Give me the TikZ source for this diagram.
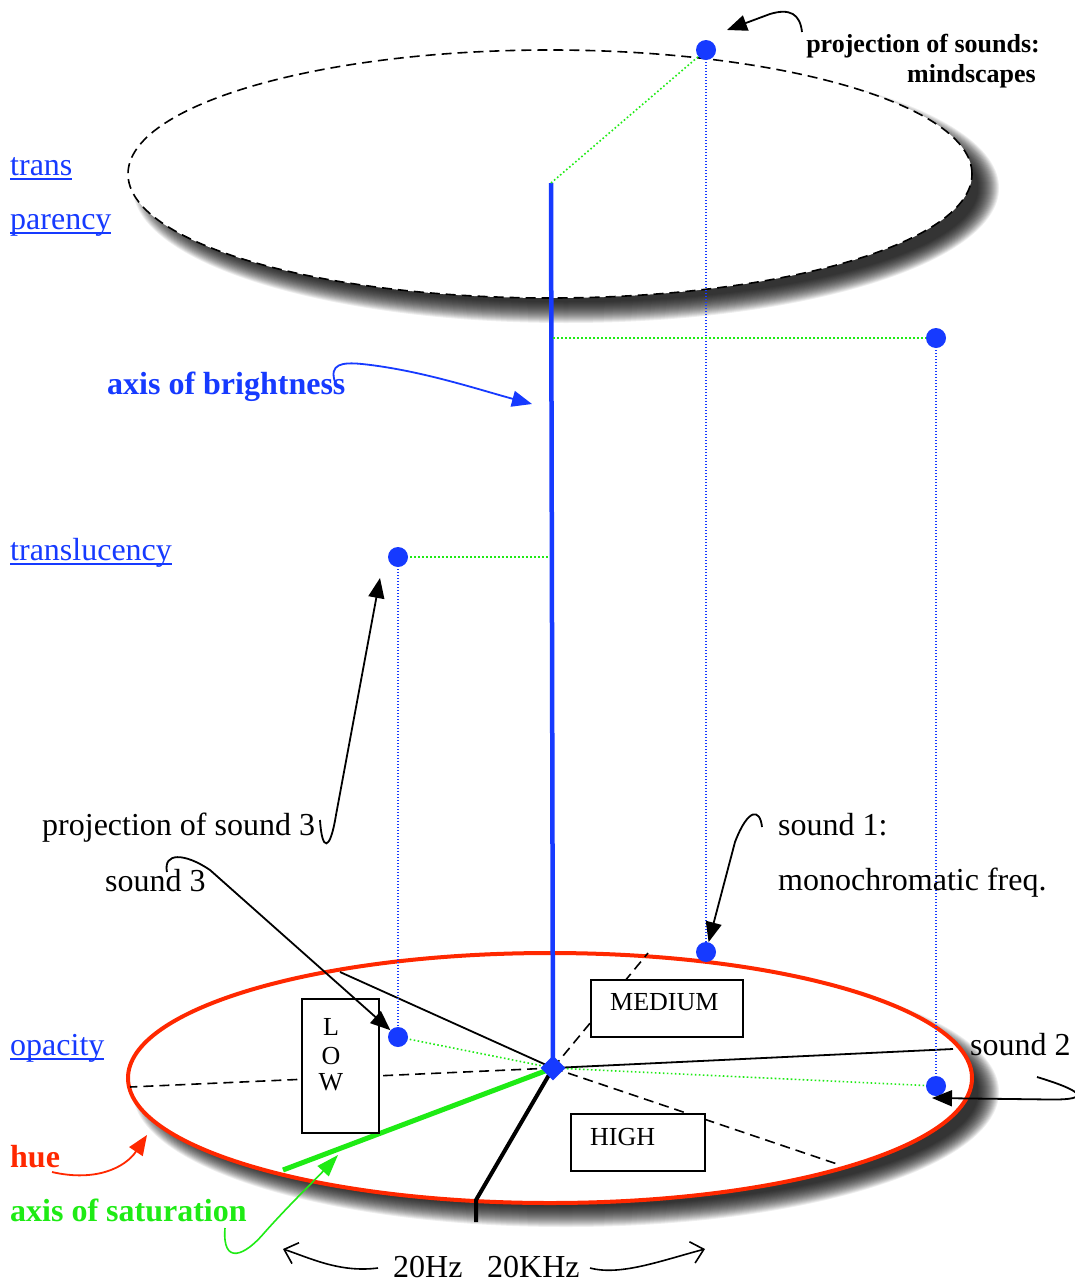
\documentclass[tikz,border=0pt]{standalone}
\usepackage{fontspec}
\setmainfont{Liberation Serif}
\usetikzlibrary{arrows.meta,shapes.geometric}
\definecolor{mblue}{RGB}{22,58,255}
\definecolor{mgreen}{RGB}{30,235,20}
\definecolor{mred}{RGB}{255,40,0}
\newcommand\ulnk[1]{\setbox0\hbox{#1}\rlap{\rule[-4.5pt]{\wd0}{2pt}}\box0}
\begin{document}
\begin{tikzpicture}[x=1pt,y=-1pt,
  lab/.style={anchor=base west,inner sep=0pt,font=\fontsize{32}{38}\selectfont},
  lnk/.style={lab,text=mblue},
  blab/.style={lab,font=\bfseries\fontsize{32}{38}\selectfont},
  bx/.style={draw=black,line width=1.8pt,fill=white,inner sep=0pt},
  bxt/.style={anchor=base,inner sep=0pt,font=\fontsize{26}{30}\selectfont},
  dotn/.style={circle,fill=mblue,inner sep=0pt,minimum size=20pt},
  bdot/.style={mblue,line width=1.2pt,dash pattern=on 1.2pt off 1.8pt},
  gdot/.style={mgreen,line width=1.6pt,dash pattern=on 1.6pt off 2.4pt},
  dsh/.style={black,line width=1.6pt,dash pattern=on 10pt off 6pt},
  ann/.style={line width=1.8pt,-{Triangle[length=20pt,width=16pt]}},
  opn/.style={line width=1.6pt,-{Straight Barb[length=12pt,width=22pt]}},
]
\useasboundingbox (0,0) rectangle (1075,1285);
\fill[white] (0,0) rectangle (1075,1285);

% shadows
\foreach \e [evaluate=\e as \rx using 422+\e, evaluate=\e as \ry using 124+\e] in {-10,-9,...,11}{
  \fill[black,opacity=0.065] (566,188) ellipse [x radius=\rx pt, y radius=\ry pt];
  \fill[black,opacity=0.065] (566,1092) ellipse [x radius=\rx pt, y radius=\ry pt];
}
% ellipses
\draw[dsh,fill=white] (550,174) ellipse [x radius=422pt, y radius=124pt];
\draw[mred,line width=4pt,fill=white] (550,1078) ellipse [x radius=422pt, y radius=125pt];

% coordinates
\coordinate (C) at (553,1068);
\coordinate (T) at (551,183);
\coordinate (P0) at (706,50);
\coordinate (P1) at (706,952);
\coordinate (Q0) at (936,338);
\coordinate (Q1) at (936,1086);
\coordinate (R0) at (398,557);
\coordinate (R1) at (398,1037);
\coordinate (AxQ) at (553,338);
\coordinate (AxR) at (549,557);
\coordinate (Lft) at (130,1087);
\coordinate (Med) at (648,953);
\coordinate (Hi) at (840,1165);
\coordinate (Sl) at (340,972);
\coordinate (Sr) at (953,1049);
\coordinate (G) at (283,1170);
\coordinate (K1) at (476,1200);
\coordinate (K2) at (476,1222);

% plane lines
\draw[dsh] (C) -- (Lft);
\draw[dsh] (C) -- (Med);
\draw[dsh] (C) -- (Hi);
\draw[line width=1.8pt] (Sl) -- (C) -- (Sr);
\draw[mgreen,line width=5pt] (G) -- (C);
\draw[line width=4pt] (C) -- (K1) -- (K2);
\draw[mblue,line width=4.5pt] (T) -- (C);

% dotted projections
\draw[gdot] (T) -- (P0);
\draw[bdot] (P0) -- (P1);
\draw[gdot] (AxQ) -- (Q0);
\draw[bdot] (Q0) -- (Q1);
\draw[gdot] (R0) -- (AxR);
\draw[bdot] (R0) -- (R1);
\draw[gdot] (R1) -- (C) -- (Q1);

% boxes
\node[bx,minimum width=152pt,minimum height=57pt] (medb) at (667,1008.5) {};
\node[bxt,anchor=base west] (medt) at (610,1010) {MEDIUM};
\node[bx,minimum width=134pt,minimum height=57pt] (hib) at (638,1142.5) {};
\node[bxt,anchor=base west] (hit) at (590,1145) {HIGH};
\node[bx,minimum width=77pt,minimum height=134pt] (lowb) at (340.5,1066) {};
\node[bxt] (lowl) at (331,1035) {L};
\node[bxt] (lowo) at (331,1064) {O};
\node[bxt] (loww) at (331,1090) {W};

% dots
\node[dotn] (d0) at (P0) {};
\node[dotn] (d1) at (P1) {};
\node[dotn] (e0) at (Q0) {};
\node[dotn] (e1) at (Q1) {};
\node[dotn] (f0) at (R0) {};
\node[dotn] (f1) at (R1) {};
\node[diamond,fill=mblue,inner sep=0pt,minimum size=25pt] (dia) at (C) {};

% labels
\node[lab,font=\bfseries\fontsize{26}{30}\selectfont,anchor=base east] (pj1) at (1040,52) {projection of sounds:};
\node[lab,font=\bfseries\fontsize{26}{30}\selectfont,anchor=base east] (pj2) at (1036,82) {mindscapes};
\node[lnk] (tr1) at (10,175) {\ulnk{trans}};
\node[lnk] (tr2) at (10,229) {\ulnk{parency}};
\node[blab,text=mblue] (brt) at (107,394) {axis of brightness};
\node[lnk] (tl) at (10,560) {\ulnk{translucency}};
\node[lab] (ps3) at (42,835) {projection of sound 3};
\node[lab] (s3) at (105,891) {sound 3};
\node[lab] (s1a) at (778,835) {sound 1:};
\node[lab] (s1b) at (778,890) {monochromatic freq.};
\node[lnk] (op) at (10,1055) {\ulnk{opacity}};
\node[lab] (s2) at (970,1055) {sound 2};
\node[blab,text=mred] (hue) at (10,1167) {hue};
\node[blab,text=mgreen] (sat) at (10,1221) {axis of saturation};
\node[lab] (hz) at (393,1277) {20Hz};
\node[lab] (khz) at (487,1277) {20KHz};

% annotation arrows
\coordinate (a1) at (802,32);
\coordinate (a1t) at (727,30);
\draw[ann] (a1) .. controls (800,14) and (790,8) .. (770,14) -- (a1t);

\coordinate (a2) at (335,382);
\coordinate (a2t) at (532,404);
\draw[ann,mblue] (a2) .. controls (329,364) and (342,362) .. (362,364) .. controls (420,370) and (480,390) .. (a2t);

\coordinate (a3) at (320,820);
\coordinate (a3t) at (380,578);
\draw[ann] (a3) .. controls (322,852) and (330,852) .. (336,815) -- (a3t);

\coordinate (a4) at (167,872);
\draw[ann] (a4) .. controls (163,852) and (185,853) .. (210,870) -- (f1);

\coordinate (a5) at (762,827);
\draw[ann] (a5) .. controls (760,808) and (748,808) .. (735,842) -- (d1);

\coordinate (a6) at (1037,1077);
\coordinate (a6t) at (932,1098);
\draw[ann] (a6) .. controls (1080,1090) and (1095,1100) .. (1050,1099.5) -- (a6t);

\coordinate (a7) at (52,1172);
\coordinate (a7t) at (147,1135);
\draw[ann,mred] (a7) .. controls (95,1182) and (125,1168) .. (a7t);

\coordinate (a8) at (225,1228);
\coordinate (a8t) at (338,1155);
\draw[mgreen,line width=1.6pt,-{Triangle[length=22pt,width=15pt]}] (a8) .. controls (222,1266) and (245,1256) .. (265,1232) .. controls (290,1204) and (315,1180) .. (a8t);

\coordinate (a9) at (378,1268);
\coordinate (a9t) at (283,1249);
\draw[opn] (a9) .. controls (340,1273) and (310,1258) .. (a9t);
\coordinate (a10) at (590,1268);
\coordinate (a10t) at (705,1249);
\draw[opn] (a10) .. controls (620,1276) and (660,1261) .. (a10t);
\end{tikzpicture}
\end{document}
